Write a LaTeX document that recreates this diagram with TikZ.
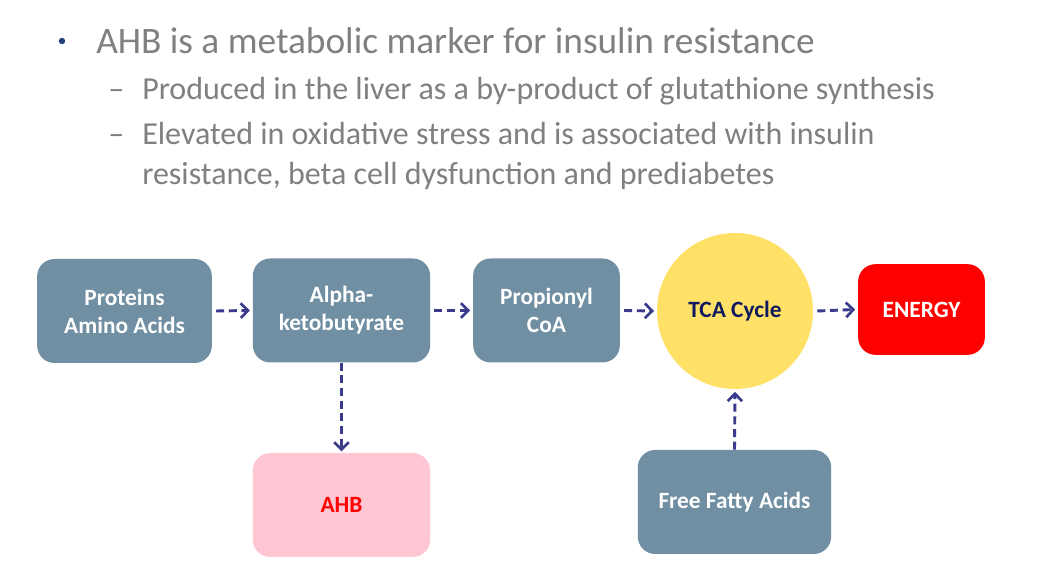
\documentclass[tikz,border=0pt]{standalone}
\usepackage{fontspec}
\setmainfont{Carlito}
\usepackage{xcolor}
\usepackage{tikz}
\usetikzlibrary{positioning,arrows.meta}
\definecolor{SlateBox}{HTML}{708FA3}
\definecolor{PinkBox}{HTML}{FFC7D4}
\definecolor{SunYellow}{HTML}{FFE168}
\definecolor{EnergyRed}{HTML}{FF0000}
\definecolor{ArrowNavy}{HTML}{3B3B8E}
\definecolor{CycleNavy}{HTML}{101A5E}
\definecolor{BulletGray}{HTML}{808080}
\definecolor{DotBlue}{HTML}{1F3E7C}
\tikzset{
  stepbox/.style={fill=SlateBox,rounded corners=13pt,
    minimum width=#1,minimum height=78pt,
    font=\fontsize{17.5}{21}\selectfont\bfseries\color{white},
    align=center,inner sep=2pt},
  stepbox/.default=132pt,
  cyclenode/.style={circle,fill=SunYellow,minimum size=117pt,inner sep=0pt,
    font=\fontsize{17.5}{21}\selectfont\bfseries\color{CycleNavy}},
  flowarrow/.style={draw=ArrowNavy,line width=2.2pt,
    dash pattern=on 6pt off 3.5pt,
    -{Straight Barb[length=5.5pt,width=11pt,line width=2pt]}},
  bullettxt/.style={anchor=base west,inner sep=0pt,
    font=\fontsize{28}{32}\selectfont\color{BulletGray}},
  subtxt/.style={anchor=base west,inner sep=0pt,
    font=\fontsize{24}{28}\selectfont\color{BulletGray}},
}
\begin{document}
\begin{tikzpicture}[x=0.75pt,y=-0.75pt]
  \useasboundingbox[fill=white] (0,0) rectangle (1047,580);
  % text above the diagram
  \fill[DotBlue] (62,41) circle (3.2);
  \node[bullettxt] (l1) at (96,54) {AHB is a metabolic marker for insulin resistance};
  \node[subtxt] (dash1) at (108,100) {–};
  \node[subtxt] (l2) at (142,100) {Produced in the liver as a by-product of glutathione synthesis};
  \node[subtxt] (dash2) at (108,145) {–};
  \node[subtxt] (l3) at (142,145) {Elevated in oxidative stress and is associated with insulin};
  \node[subtxt] (l4) at (142,185) {resistance, beta cell dysfunction and prediabetes};
  % pathway
  \node[stepbox=131pt] (prot) at (124.5,311) {Proteins\\Amino Acids};
  \node[stepbox=133pt] (alpha) at (341.5,310.5) {Alpha-\\ketobutyrate};
  \node[stepbox=110pt] (prop) at (546.5,310.5) {Propionyl\\CoA};
  \node[cyclenode] (tca) at (735,311) {TCA Cycle};
  \node[stepbox=95pt,minimum height=68pt,fill=EnergyRed] (energy) at (921.5,309.5) {ENERGY};
  \node[stepbox=133pt,fill=PinkBox,text=EnergyRed] (ahb) at (341.5,505) {AHB};
  \node[stepbox=145pt] (ffa) at (734.5,502) {Free Fatty Acids};
  \draw[flowarrow] ([xshift=3pt]prot.east) -- ([xshift=-2pt]alpha.west);
  \draw[flowarrow] ([xshift=3pt]alpha.east) -- ([xshift=-2pt]prop.west);
  \draw[flowarrow] ([xshift=3pt]prop.east) -- ([xshift=-2pt]tca.west);
  \draw[flowarrow] ([xshift=3pt]tca.east) -- ([xshift=-2pt]energy.west);
  \draw[flowarrow] (alpha.south) -- ([yshift=1pt]ahb.north);
  \draw[flowarrow] (ffa.north) -- ([yshift=-2pt]tca.south);
\end{tikzpicture}
\end{document}
